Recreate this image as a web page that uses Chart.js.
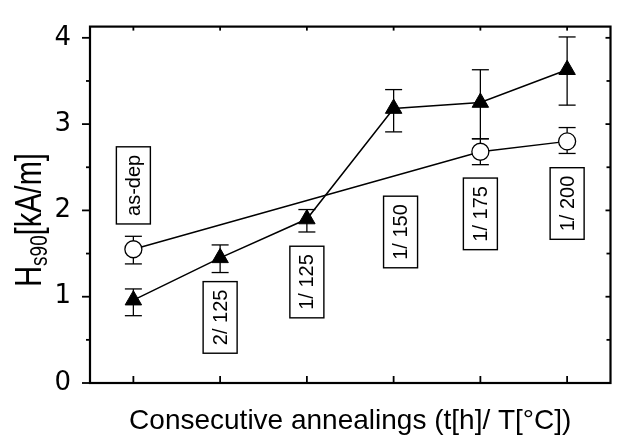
<!DOCTYPE html>
<html>
<head>
<meta charset="utf-8">
<script src="https://cdn.jsdelivr.net/npm/chart.js@4.4.0/dist/chart.umd.min.js"></script>
<style>
  html, body { margin: 0; padding: 0; background: #fff; }
  #wrap { width: 621px; height: 438px; }
</style>
</head>
<body>
<div id="wrap"><canvas id="c"></canvas></div>
<script>
// annealing steps on the x axis (0 = as-deposited)
const steps = [0, 1, 2, 3, 4, 5];
const stepLabels = ["as-dep", "2/ 125", "1/ 125", "1/ 150", "1/ 175", "1/ 200"];
const stepLabelX = [0, 1, 2, 3.08, 4, 5];
const stepLabelY = [2.29, 0.76, 1.17, 1.75, 1.96, 2.08];

// filled triangles
const triX = [0, 1, 2, 3, 4, 5];
const triY = [0.96, 1.45, 1.9, 3.18, 3.25, 3.63];
const triHi = [1.09, 1.6, 2.01, 3.4, 3.63, 4.01];
const triLo = [0.78, 1.28, 1.75, 2.91, 2.83, 3.22];

// open circles
const circX = [0, 4, 5];
const circY = [1.55, 2.68, 2.8];
const circHi = [1.7, 2.83, 2.96];
const circLo = [1.38, 2.53, 2.66];

const yTicks = [0, 1, 2, 3, 4];
const FONT = "'Liberation Sans', Arial, sans-serif";

function pts(xs, ys, hi, lo) {
  return xs.map((x, i) => ({ x: x, y: ys[i], hi: hi[i], lo: lo[i] }));
}

function seg(ctx, x1, y1, x2, y2) {
  ctx.beginPath(); ctx.moveTo(x1, y1); ctx.lineTo(x2, y2); ctx.stroke();
}

const extras = {
  id: 'extras',
  beforeDatasetsDraw(chart) {
    const { ctx, scales: { x, y } } = chart;
    ctx.save();
    ctx.strokeStyle = '#000';
    ctx.lineWidth = 1.3;
    chart.data.datasets.forEach(ds => {
      ds.data.forEach(p => {
        const px = x.getPixelForValue(p.x);
        const hi = y.getPixelForValue(p.hi), lo = y.getPixelForValue(p.lo);
        seg(ctx, px, hi, px, lo);
        seg(ctx, px - 8.5, hi, px + 8.5, hi);
        seg(ctx, px - 8.5, lo, px + 8.5, lo);
      });
    });
    ctx.restore();
  },
  afterDraw(chart) {
    const { ctx, chartArea: a, scales: { x, y } } = chart;
    ctx.save();
    ctx.strokeStyle = '#000';

    // step label boxes
    ctx.font = '20px ' + FONT;
    ctx.lineWidth = 1.4;
    stepLabels.forEach((t, i) => {
      const cx = x.getPixelForValue(stepLabelX[i]);
      const cy = y.getPixelForValue(stepLabelY[i]);
      const w = ctx.measureText(t).width + 16;
      const h = 34;
      ctx.save();
      ctx.translate(cx, cy);
      ctx.rotate(-Math.PI / 2);
      ctx.fillStyle = '#fff';
      ctx.fillRect(-w / 2, -h / 2, w, h);
      ctx.strokeRect(-w / 2, -h / 2, w, h);
      ctx.fillStyle = '#000';
      ctx.textAlign = 'center';
      ctx.textBaseline = 'middle';
      ctx.fillText(t, 0, 1);
      ctx.restore();
    });

    // frame
    ctx.lineWidth = 2.2;
    ctx.strokeRect(a.left, a.top, a.right - a.left, a.bottom - a.top);

    // ticks
    ctx.lineWidth = 1.8;
    for (let v = 0; v <= 4; v += 0.5) {
      const py = y.getPixelForValue(v);
      const major = Number.isInteger(v);
      seg(ctx, a.left - (major ? 8 : 4), py, a.left, py);
      seg(ctx, a.right - (major ? 5 : 4), py, a.right, py);
    }
    steps.forEach(s => {
      const px = x.getPixelForValue(s);
      seg(ctx, px, a.bottom, px, a.bottom - 7);
      seg(ctx, px, a.top, px, a.top + 4);
    });

    // y title with subscript (glyphs a bit taller than wide, like the original)
    ctx.save();
    ctx.translate(41, 220);
    ctx.rotate(-Math.PI / 2);
    ctx.scale(1, 1.25);
    ctx.fillStyle = '#000';
    ctx.textBaseline = 'alphabetic';
    ctx.font = '29px ' + FONT;
    const wH = ctx.measureText('H').width;
    ctx.font = '19px ' + FONT;
    const wS = ctx.measureText('s90').width;
    ctx.font = '29px ' + FONT;
    const wB = ctx.measureText('[kA/m]').width;
    let sx = -(wH + wS + wB) / 2;
    ctx.fillText('H', sx, 0); sx += wH;
    ctx.font = '19px ' + FONT;
    ctx.fillText('s90', sx, 5); sx += wS;
    ctx.font = '29px ' + FONT;
    ctx.fillText('[kA/m]', sx, 0);
    ctx.restore();

    ctx.restore();
  }
};

new Chart(document.getElementById('c'), {
  type: 'scatter',
  data: {
    datasets: [
      {
        data: pts(triX, triY, triHi, triLo),
        showLine: true,
        borderColor: '#000',
        borderWidth: 1.5,
        pointStyle: 'triangle',
        pointRadius: 9.5,
        pointBackgroundColor: '#000',
        pointBorderColor: '#000',
        pointBorderWidth: 1
      },
      {
        data: pts(circX, circY, circHi, circLo),
        showLine: true,
        borderColor: '#000',
        borderWidth: 1.5,
        pointStyle: 'circle',
        pointRadius: 8.5,
        pointBackgroundColor: '#fff',
        pointBorderColor: '#000',
        pointBorderWidth: 1.3
      }
    ]
  },
  options: {
    responsive: true,
    maintainAspectRatio: false,
    animation: false,
    layout: { padding: { top: 13, right: 1, left: 0, bottom: 0 } },
    plugins: { legend: { display: false }, tooltip: { enabled: false } },
    scales: {
      x: {
        type: 'linear',
        min: -0.5,
        max: 5.5,
        grid: { display: false },
        border: { display: false },
        ticks: { display: false },
        title: {
          display: true,
          text: 'Consecutive annealings (t[h]/ T[°C])',
          color: '#000',
          font: { family: FONT, size: 28 },
          padding: 0
        },
        afterFit(s) { s.height = 55; }
      },
      y: {
        min: 0,
        max: 4.13,
        grid: { display: false },
        border: { display: false },
        ticks: {
          stepSize: 1,
          includeBounds: false,
          color: '#000',
          padding: 11,
          font: { family: "'DejaVu Sans', sans-serif", size: 26 },
          callback: v => yTicks.includes(v) ? String(v) : ''
        },
        afterFit(s) { s.width = 90; }
      }
    }
  },
  plugins: [extras]
});
</script>
</body>
</html>
